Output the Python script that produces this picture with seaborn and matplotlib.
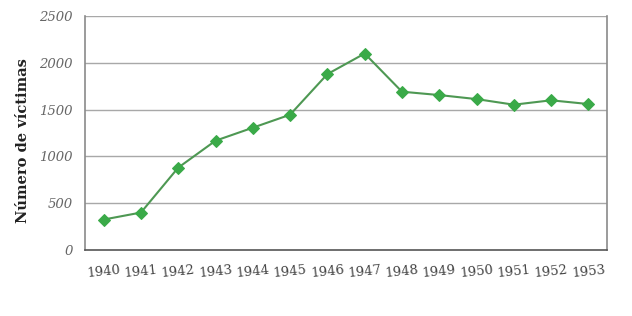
import matplotlib
matplotlib.use("Agg")
import matplotlib.pyplot as plt
import seaborn as sns
import numpy as np
import pandas as pd

years = [1940, 1941, 1942, 1943, 1944, 1945, 1946, 1947, 1948, 1949, 1950, 1951, 1952, 1953]
victims = [325, 400, 880, 1168, 1307, 1446, 1880, 2100, 1692, 1656, 1613, 1553, 1600, 1560]
y_ticks = [0, 500, 1000, 1500, 2000, 2500]
y_label = "Número de víctimas"

df = pd.DataFrame({"year": years, "victims": victims})

sns.set_style("white")
plt.rcParams["font.family"] = ["DejaVu Serif"]

fig = plt.figure(figsize=(6.32, 3.16), dpi=100)
ax = fig.add_axes([0.1345, 0.209, 0.826, 0.740])

sns.lineplot(data=df, x="year", y="victims", ax=ax, color="#4e9853", linewidth=1.5,
             marker="D", markersize=6.5, markerfacecolor="#3aaa48", markeredgecolor="#3aaa48")

ax.set_xlim(years[0] - 0.5, years[-1] + 0.5)
ax.set_ylim(0, 2500)
ax.set_yticks(y_ticks)
ax.set_yticklabels([str(v) for v in y_ticks], fontstyle="italic", color="#666666", fontsize=9.5)
for v in y_ticks[1:]:
    ax.axhline(v, color="#a8a8a8", linewidth=1.0, zorder=0)

ax.set_xticks(years)
ax.set_xticklabels([str(y) for y in years], rotation=6, color="#444444", fontsize=9.5)
ax.set_xticks([y - 0.5 for y in years] + [years[-1] + 0.5], minor=True)
ax.tick_params(axis="x", which="major", length=0, pad=10)
ax.tick_params(axis="x", which="minor", length=5, color="#666666", width=1)
ax.tick_params(axis="y", which="major", length=6, color="#888888", width=1, pad=3)

for s in ["left", "right"]:
    ax.spines[s].set_color("#8a8a8a")
    ax.spines[s].set_linewidth(1.2)
ax.spines["bottom"].set_color("#555555")
ax.spines["bottom"].set_linewidth(1.2)
ax.spines["top"].set_visible(False)

ax.set_xlabel("")
ax.set_ylabel(y_label, fontweight="bold", fontsize=10.5, color="#222222")
ax.yaxis.set_label_coords(-0.106, 0.466)

fig.savefig("out.png", dpi=100)
